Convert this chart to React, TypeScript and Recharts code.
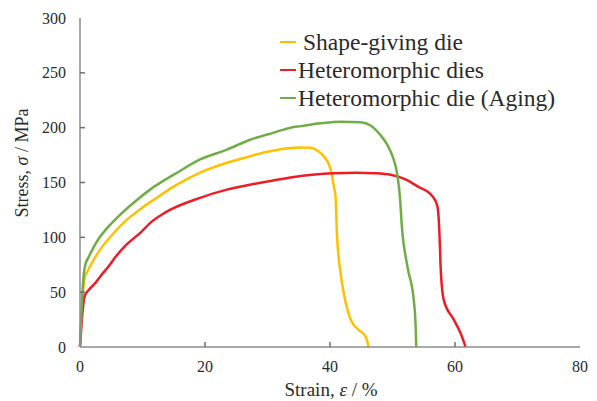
import { LineChart, Line, XAxis, YAxis, Legend, Label } from 'recharts';

const strainTicks = [0, 20, 40, 60, 80];
const stressTicks = [0, 50, 100, 150, 200, 250, 300];

// strain (%) / stress (MPa)
const shapeGiving = [
  { strain: 0, stress: 0 }, { strain: 0.3, stress: 35 }, { strain: 0.6, stress: 58 },
  { strain: 0.8, stress: 64 }, { strain: 1.2, stress: 69 }, { strain: 1.9, stress: 76.5 },
  { strain: 3, stress: 87 }, { strain: 4.5, stress: 98 },
  { strain: 7.2, stress: 114.5 }, { strain: 9.9, stress: 126.8 }, { strain: 12, stress: 135 },
  { strain: 15.5, stress: 148 }, { strain: 19.2, stress: 159 }, { strain: 23.5, stress: 168 },
  { strain: 27.2, stress: 174 }, { strain: 30, stress: 178 }, { strain: 33.7, stress: 181.5 },
  { strain: 35.3, stress: 182 }, { strain: 36.9, stress: 181.6 }, { strain: 38, stress: 179 },
  { strain: 39, stress: 174 }, { strain: 40.1, stress: 162 }, { strain: 40.6, stress: 147 },
  { strain: 40.9, stress: 136 }, { strain: 41.1, stress: 104 }, { strain: 41.7, stress: 67 },
  { strain: 42.2, stress: 49 }, { strain: 43.3, stress: 25 }, { strain: 44.6, stress: 15.5 },
  { strain: 45.7, stress: 9.4 }, { strain: 46.2, stress: 0 },
];

const heteroDies = [
  { strain: 0, stress: 0 }, { strain: 0.3, stress: 25 }, { strain: 0.6, stress: 42 },
  { strain: 0.8, stress: 47 }, { strain: 1.4, stress: 52 }, { strain: 2.4, stress: 58 },
  { strain: 3.4, stress: 65.5 }, { strain: 4.5, stress: 73 }, { strain: 5.8, stress: 83 },
  { strain: 7.2, stress: 92 }, { strain: 9.9, stress: 105.5 }, { strain: 11.2, stress: 113 },
  { strain: 13.6, stress: 122.5 }, { strain: 19.2, stress: 136 }, { strain: 23.5, stress: 143.5 },
  { strain: 27.2, stress: 148 }, { strain: 30, stress: 151 }, { strain: 33.7, stress: 154.5 },
  { strain: 35.3, stress: 156 }, { strain: 40.6, stress: 158.5 }, { strain: 44.3, stress: 159 },
  { strain: 47, stress: 158.5 }, { strain: 49.7, stress: 157 }, { strain: 52, stress: 153 },
  { strain: 54, stress: 146.5 }, { strain: 56.4, stress: 137.4 }, { strain: 57.2, stress: 128 },
  { strain: 57.4, stress: 116 }, { strain: 57.6, stress: 90 }, { strain: 57.7, stress: 73 },
  { strain: 58.2, stress: 43 }, { strain: 59.8, stress: 25 }, { strain: 60.9, stress: 12.5 },
  { strain: 61.7, stress: 0 },
];

const heteroAging = [
  { strain: 0, stress: 0 }, { strain: 0.3, stress: 40 }, { strain: 0.6, stress: 66 },
  { strain: 0.9, stress: 76 }, { strain: 1.3, stress: 81 }, { strain: 2, stress: 89 },
  { strain: 2.9, stress: 98 }, { strain: 4.2, stress: 107.5 },
  { strain: 5.6, stress: 116 }, { strain: 9.1, stress: 134 }, { strain: 11.2, stress: 143.5 },
  { strain: 15.5, stress: 158.8 }, { strain: 19.2, stress: 171 }, { strain: 23.5, stress: 180 },
  { strain: 27.2, stress: 189 }, { strain: 31, stress: 195.5 }, { strain: 33.7, stress: 200 },
  { strain: 35.3, stress: 201.4 }, { strain: 38.5, stress: 204 }, { strain: 41.7, stress: 205.5 },
  { strain: 44.9, stress: 205 }, { strain: 46.5, stress: 202 }, { strain: 48.1, stress: 193 },
  { strain: 49.2, stress: 184 }, { strain: 50, stress: 174 }, { strain: 50.8, stress: 156 },
  { strain: 51.2, stress: 136 }, { strain: 51.5, stress: 110 }, { strain: 52.4, stress: 73 },
  { strain: 53.4, stress: 43 }, { strain: 53.7, stress: 19 }, { strain: 53.8, stress: 0 },
];

const series = [
  { name: 'Shape-giving die', color: '#ffc000', data: shapeGiving },
  { name: 'Heteromorphic dies', color: '#ee1c24', data: heteroDies },
  { name: 'Heteromorphic die (Aging)', color: '#70ad47', data: heteroAging },
];

const FONT = '"Liberation Serif", "Times New Roman", serif';
const AXIS = '#8c8c8c';
const TEXT = '#2a2a2a';
const TICK_LEN = 5;

// bottom axis: inward tick mark plus label
function StrainTick(props: any) {
  const { x, payload } = props;
  const base = 347;
  return (
    <g>
      {payload.value !== 0 && payload.value !== 80 && (
        <line x1={x} x2={x} y1={base} y2={base - TICK_LEN} stroke="#6f6f6f" strokeWidth={1.5} />
      )}
      <text x={x} y={372} textAnchor="middle" fill={TEXT} fontFamily={FONT} fontSize={16}>
        {payload.value}
      </text>
    </g>
  );
}

function StressTick(props: any) {
  const { y, payload } = props;
  return (
    <g>
      {payload.value !== 0 && payload.value !== 300 && (
        <line x1={80} x2={80 + TICK_LEN} y1={y} y2={y} stroke="#6f6f6f" strokeWidth={1.5} />
      )}
      <text x={66} y={y} dy={5.5} textAnchor="end" fill={TEXT} fontFamily={FONT} fontSize={16}>
        {payload.value}
      </text>
    </g>
  );
}

function RightTick(props: any) {
  const { y, payload } = props;
  if (payload.value === 0 || payload.value === 300) return <g />;
  return <line x1={580} x2={580 - TICK_LEN} y1={y} y2={y} stroke="#6f6f6f" strokeWidth={1.5} />;
}

function LegendBox() {
  return (
    <div style={{ fontFamily: FONT, fontSize: 23.5, color: TEXT }}>
      {series.map((s, i) => (
        <div key={s.name} style={{ display: 'flex', alignItems: 'center', height: 28, whiteSpace: 'nowrap' }}>
          <span style={{ display: 'inline-block', width: 16, height: 2.5, background: s.color, marginRight: i === 0 ? 7 : 2 }} />
          <span>{s.name}</span>
        </div>
      ))}
    </div>
  );
}

export default function App() {
  return (
    <div style={{ position: 'absolute', left: 0, top: 0, fontFamily: FONT }}>
      <LineChart width={597} height={401} margin={{ top: 18, right: 17, bottom: 0, left: 0 }}>
        <XAxis
          type="number"
          dataKey="strain"
          domain={[0, 80]}
          ticks={strainTicks}
          height={54}
          stroke={AXIS}
          strokeWidth={1.5}
          tickLine={false}
          tick={<StrainTick />}
        >
          <Label
            content={() => (
              <text x={331} y={396} textAnchor="middle" fill={TEXT} fontFamily={FONT} fontSize={19}>
                Strain, <tspan fontStyle="italic">ε</tspan> / %
              </text>
            )}
          />
        </XAxis>
        <XAxis xAxisId="top" orientation="top" type="number" domain={[0, 80]} height={0} tick={false} tickLine={false} stroke={AXIS} strokeWidth={1.5} />
        <YAxis
          type="number"
          domain={[0, 300]}
          ticks={stressTicks}
          width={80}
          stroke={AXIS}
          strokeWidth={1.5}
          tickLine={false}
          tick={<StressTick />}
        >
          <Label
            content={() => (
              <text
                x={22}
                y={163}
                transform="rotate(-90 22 163)"
                textAnchor="middle"
                dominantBaseline="central"
                fill={TEXT}
                fontFamily={FONT}
                fontSize={18}
              >
                Stress, <tspan fontStyle="italic">σ</tspan> / MPa
              </text>
            )}
          />
        </YAxis>
        <YAxis
          yAxisId="right"
          orientation="right"
          type="number"
          domain={[0, 300]}
          ticks={stressTicks}
          width={0}
          tickLine={false}
          tick={<RightTick />}
          stroke={AXIS}
          strokeWidth={1.5}
        />
        <Legend
          content={LegendBox}
          layout="horizontal"
          verticalAlign="middle"
          align="center"
          wrapperStyle={{ top: 28, left: 280, width: 300 }}
        />
        {series.map((s) => (
          <Line
            key={s.name}
            data={s.data}
            dataKey="stress"
            name={s.name}
            type="monotone"
            stroke={s.color}
            strokeWidth={2.5}
            dot={false}
            isAnimationActive={false}
          />
        ))}
      </LineChart>
    </div>
  );
}
